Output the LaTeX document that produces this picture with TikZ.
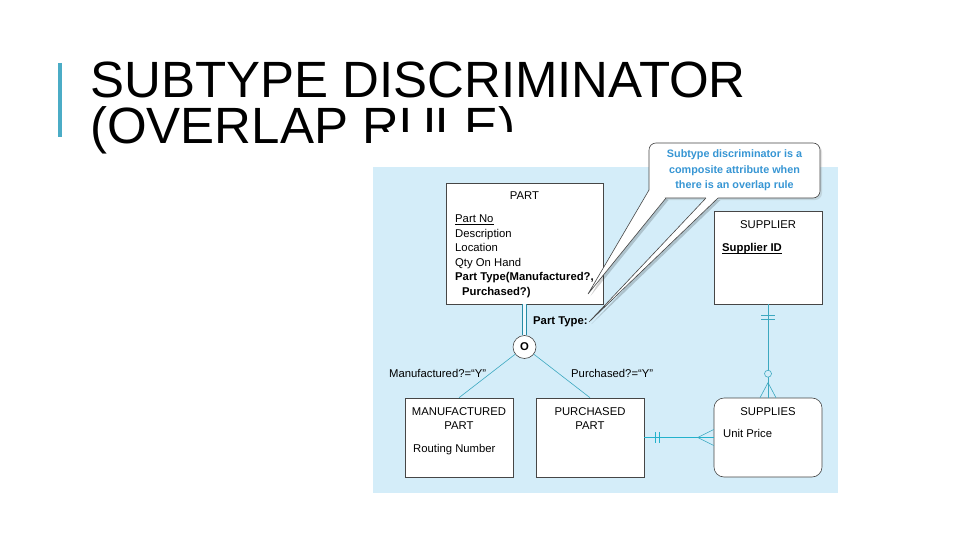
\documentclass[tikz,border=0pt]{standalone}
\usepackage{fontspec}
\setmainfont{Liberation Sans}
\usetikzlibrary{positioning, shadows}

\definecolor{accentbar}{RGB}{75,172,198}
\definecolor{panelblue}{RGB}{212,237,249}
\definecolor{linkteal}{RGB}{60,168,192}
\definecolor{linkcyan}{RGB}{35,178,204}
\definecolor{linkdark}{RGB}{40,140,165}
\definecolor{edgegray}{RGB}{70,70,70}
\definecolor{noteblue}{RGB}{55,150,212}

\newcommand{\erfont}{\fontsize{11.3}{13}\selectfont}

\begin{document}
\begin{tikzpicture}[x=1pt, y=-1pt,
    entity/.style={rectangle, draw=edgegray, line width=0.6pt, fill=white,
                   inner sep=0pt, minimum width=108pt, minimum height=79pt},
    hdr/.style={font=\erfont, anchor=base, inner sep=0pt},
    attr/.style={font=\erfont, anchor=base west, inner sep=0pt},
    key/.style={attr, font=\erfont\bfseries},
    rel/.style={draw=linkteal, line width=0.6pt},
    note/.style={rectangle, rounded corners=7pt, draw=edgegray, line width=0.6pt,
                 fill=white, align=center, text=noteblue,
                 font=\fontsize{10.8}{15.3}\selectfont\bfseries,
                 minimum width=171pt, minimum height=55pt,
                 drop shadow={opacity=0.22, shadow xshift=2pt, shadow yshift=-2pt}}]

\useasboundingbox (0,0) rectangle (960,540);

% slide title
\draw[accentbar, line width=4pt] (60,63) -- (60,137);
\node[anchor=base west, inner sep=0pt, font=\fontsize{51}{51}\selectfont] (title1) at (90,98) {SUBTYPE DISCRIMINATOR};
\node[anchor=base west, inner sep=0pt, font=\fontsize{51}{51}\selectfont] (title2) at (90,143.5) {(OVERLAP RULE)};

% figure panel
\fill[white] (371,132) rectangle (840,493);
\fill[panelblue] (373,167) rectangle (838,493);

% supertype
\node[entity, minimum width=157pt, minimum height=121pt] (part) at (524.5,243.5) {};
\node[hdr] (parttitle) at ([yshift=-17pt]part.north) {PART};
\node[attr] (partno) at (455,222) {Part No};
\draw[black, line width=0.6pt] ([yshift=-2pt]partno.base west) -- ([yshift=-2pt]partno.base east);
\node[attr] (partdesc) at (455,237) {Description};
\node[attr] (partloc) at (455,251) {Location};
\node[attr] (partqty) at (455,266) {Qty On Hand};
\node[key] (parttype) at (455,280) {Part Type(Manufactured?,};
\node[key] (parttype2) at (462,295) {Purchased?)};

% supplier
\node[entity, minimum height=93pt] (supplier) at (768,257.5) {};
\node[hdr] (suptitle) at ([yshift=-18pt]supplier.north) {SUPPLIER};
\node[key] (supid) at (722,251) {Supplier ID};
\draw[black, line width=0.6pt] ([yshift=-2pt]supid.base west) -- ([yshift=-2pt]supid.base east);

% subtypes
\node[entity] (mfg) at (459,437.5) {};
\node[hdr] (mfgtitle) at ([yshift=-18pt]mfg.north) {MANUFACTURED};
\node[hdr] (mfgtitle2) at ([yshift=-32pt]mfg.north) {PART};
\node[attr] (routing) at (413,452) {Routing Number};

\node[entity] (purch) at (590,437.5) {};
\node[hdr] (purchtitle) at ([yshift=-18pt]purch.north) {PURCHASED};
\node[hdr] (purchtitle2) at ([yshift=-32pt]purch.north) {PART};

% associative entity
\node[entity, rounded corners=10pt] (supplies) at (768,437.5) {};
\node[hdr] (suppliestitle) at ([yshift=-18pt]supplies.north) {SUPPLIES};
\node[attr] (price) at (723,437) {Unit Price};

% discriminator
\node[circle, draw=edgegray, line width=0.6pt, fill=white, minimum size=23pt,
      inner sep=0pt, font=\erfont\bfseries] (disc) at (524.5,347) {O};
\draw[linkdark, line width=0.8pt, double=panelblue!40!white, double distance=2.6pt] (part.south) -- (disc.north);
\node[key] (ptlabel) at (533,324) {Part Type:};

\draw[rel] (disc) -- (mfg.north);
\draw[rel] (disc) -- (purch.north);
\node[attr] (mfglabel) at (389,377) {Manufactured?=“Y”};
\node[attr] (purchlabel) at (571,377) {Purchased?=“Y”};

% supplier -- supplies
\draw[rel] (supplier.south) -- (supplies.north);
\draw[rel] ([xshift=-7pt, yshift=-11pt]supplier.south) -- ([xshift=7pt, yshift=-11pt]supplier.south);
\draw[rel] ([xshift=-7pt, yshift=-15pt]supplier.south) -- ([xshift=7pt, yshift=-15pt]supplier.south);
\draw[rel, fill=panelblue] ([yshift=24pt]supplies.north) circle (3.5pt);
\draw[rel] ([xshift=-8pt]supplies.north) -- ([yshift=15pt]supplies.north) -- ([xshift=8pt]supplies.north);

% purchased part -- supplies
\draw[rel, draw=linkcyan, line width=1pt] (purch.east) -- (supplies.west);
\draw[rel, draw=linkcyan, line width=0.9pt] ([xshift=11pt, yshift=5.5pt]purch.east) -- ([xshift=11pt, yshift=-5.5pt]purch.east);
\draw[rel, draw=linkcyan, line width=0.9pt] ([xshift=15pt, yshift=5.5pt]purch.east) -- ([xshift=15pt, yshift=-5.5pt]purch.east);
\draw[rel] ([yshift=8pt]supplies.west) -- ([xshift=-16pt]supplies.west) -- ([yshift=-8pt]supplies.west);

% callout
\begin{scope}[shift={(2.5,2)}]
  \fill[black, opacity=0.18] (649,190) -- (588,294) -- (666,198) -- cycle;
  \fill[black, opacity=0.18] (706,198) -- (589,322) -- (718,198) -- cycle;
\end{scope}
\node[note] (callout) at (734.5,170.5) {Subtype discriminator is a\\composite attribute when\\there is an overlap rule};
\fill[white] (649,190) -- (588,294) -- (666,198) -- cycle;
\draw[edgegray, line width=0.6pt] (649,190) -- (588,294) -- (666,198);
\fill[white] (706,196) -- (706,198) -- (589,322) -- (718,198) -- (718,196) -- cycle;
\draw[edgegray, line width=0.6pt] (706,198) -- (589,322) -- (718,198);

\end{tikzpicture}
\end{document}
